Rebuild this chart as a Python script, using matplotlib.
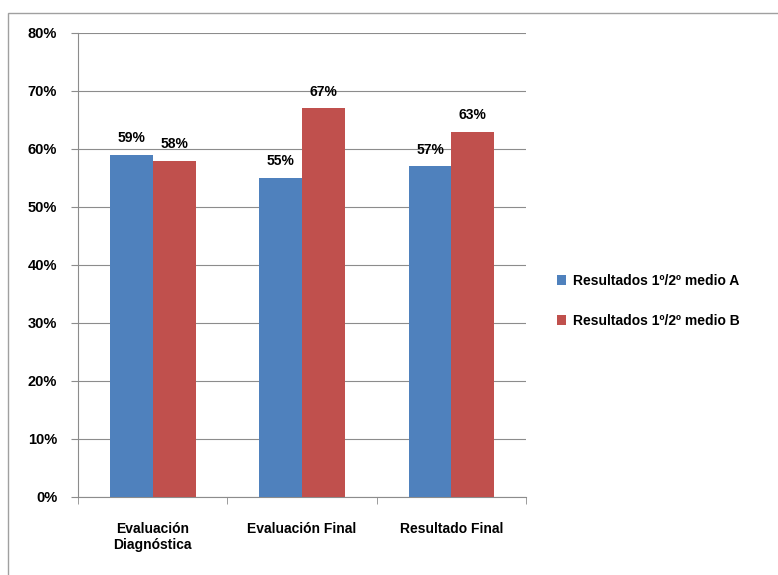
import matplotlib.pyplot as plt
import numpy as np
from matplotlib.patches import Rectangle
from matplotlib.ticker import PercentFormatter

categories = ["Evaluación\nDiagnóstica", "Evaluación Final", "Resultado Final"]
series_names = ["Resultados 1º/2º medio A", "Resultados 1º/2º medio B"]
valores_a = [59, 55, 57]
valores_b = [58, 67, 63]
colores = ["#4F81BD", "#C0504D"]

plt.rcParams['font.family'] = ['Liberation Sans', 'DejaVu Sans']
plt.rcParams['font.weight'] = 'bold'

fig = plt.figure(figsize=(7.78, 5.75), dpi=100)
ax = fig.add_axes([0.1003, 0.1357, 0.576, 0.807])

# marco del grafico
fig.patches.append(Rectangle((8 / 778, -0.1), 1.1, 1.1 - 13 / 575, transform=fig.transFigure,
                             fill=False, edgecolor="#a0a0a0", linewidth=1))

x = np.arange(len(categories))
w = 0.287
bars_a = ax.bar(x - w / 2, valores_a, w, color=colores[0], label=series_names[0], zorder=3)
bars_b = ax.bar(x + w / 2, valores_b, w, color=colores[1], label=series_names[1], zorder=3)

for bars in (bars_a, bars_b):
    for b in bars:
        ax.annotate(f"{b.get_height():.0f}%", (b.get_x() + b.get_width() / 2, b.get_height()),
                    xytext=(0, 7), textcoords="offset points", ha="center", va="bottom",
                    fontsize=10, fontweight="bold")

ax.set_ylim(0, 80)
ax.set_xlim(-0.5, 2.5)
ax.set_yticks(range(0, 81, 10))
ax.yaxis.set_major_formatter(PercentFormatter(decimals=0))
ax.grid(axis="y", color="#8c8c8c", linewidth=0.8, zorder=0)

ax.set_xticks(x)
ax.set_xticklabels(categories, fontsize=10, fontweight="bold")
ax.set_xticks([-0.5, 0.5, 1.5, 2.5], minor=True)
ax.tick_params(axis="x", which="major", length=0, pad=18)
ax.tick_params(axis="x", which="minor", length=5, color="#8c8c8c")
ax.tick_params(axis="y", length=5, color="#8c8c8c", labelsize=10.5, pad=10)

for s in ["top", "right"]:
    ax.spines[s].set_visible(False)
for s in ["left", "bottom"]:
    ax.spines[s].set_color("#8c8c8c")

handles, labels = ax.get_legend_handles_labels()
fig.legend(handles, labels, loc="center left", bbox_to_anchor=(544 / 778, 1 - 301 / 575),
           frameon=False, handlelength=0.7, handleheight=0.7, handletextpad=0.5,
           labelspacing=1.85, prop={"weight": "bold", "size": 10})

fig.savefig("out.png", dpi=100)
